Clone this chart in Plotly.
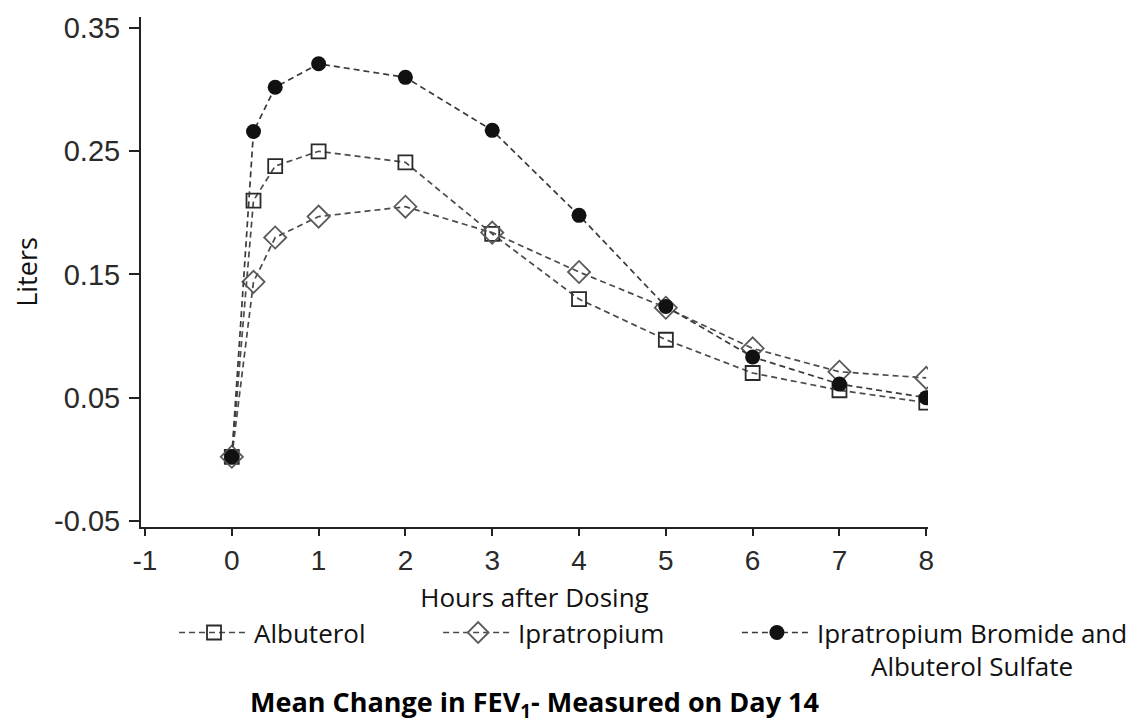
import plotly.graph_objects as go

hours = [0, 0.25, 0.5, 1, 2, 3, 4, 5, 6, 7, 8]
albuterol = [0.002, 0.210, 0.238, 0.250, 0.241, 0.183, 0.130, 0.097, 0.070, 0.056, 0.046]
ipratropium = [0.002, 0.144, 0.180, 0.197, 0.205, 0.184, 0.152, 0.123, 0.090, 0.071, 0.066]
combination = [0.002, 0.266, 0.302, 0.321, 0.310, 0.267, 0.198, 0.124, 0.083, 0.061, 0.050]

names = ["Albuterol" + " " * 10, "Ipratropium" + " " * 10,
         "Ipratropium Bromide and<br>" + " " * 8 + "Albuterol Sulfate"]

x_ticks = [-1, 0, 1, 2, 3, 4, 5, 6, 7, 8]
y_ticks = [-0.05, 0.05, 0.15, 0.25, 0.35]
y_tick_labels = ["-0.05", "0.05", "0.15", "0.25", "0.35"]

DASH = "6px,4px"
fig = go.Figure()
fig.add_trace(go.Scatter(
    x=hours, y=albuterol, name=names[0], mode="lines+markers",
    line=dict(color="#4a4a4a", width=1.7, dash=DASH),
    marker=dict(symbol="square-open", size=14, color="#2a2a2a", line=dict(width=1.8)),
))
fig.add_trace(go.Scatter(
    x=hours, y=ipratropium, name=names[1], mode="lines+markers",
    line=dict(color="#4a4a4a", width=1.7, dash=DASH),
    marker=dict(symbol="diamond-open", size=17, color="#5a5a5a", line=dict(width=1.8)),
))
fig.add_trace(go.Scatter(
    x=hours, y=combination, name=names[2], mode="lines+markers",
    line=dict(color="#3a3a3a", width=1.7, dash=DASH),
    marker=dict(symbol="circle", size=15, color="#111111"),
))

fig.update_layout(
    width=1147, height=719,
    margin=dict(l=133, r=227, t=9, b=200, autoexpand=False),
    plot_bgcolor="white", paper_bgcolor="white",
    showlegend=True,
    legend=dict(
        orientation="h", traceorder="normal", valign="top",
        xref="paper", yref="paper",
        x=1.2605, y=-0.161, xanchor="right", yanchor="top",
        font=dict(family="Open Sans", size=26, color="#111111"),
        itemwidth=70, bgcolor="rgba(0,0,0,0)",
    ),
    font=dict(family="Liberation Sans", color="#222222"),
)

fig.update_xaxes(
    range=[-1.046, 8.02], tickvals=x_ticks, ticktext=[str(t) for t in x_ticks],
    showline=True, linecolor="#222222", linewidth=2, automargin=False,
    ticks="outside", ticklen=7, tickwidth=2, tickcolor="#222222",
    showgrid=False, zeroline=False,
    tickfont=dict(family="Liberation Sans", size=28, color="#2a2a2a"),
    title=dict(text="Hours after Dosing", font=dict(family="Open Sans", size=26, color="#111111"), standoff=14),
)
fig.update_yaxes(
    range=[-0.055, 0.359], tickvals=y_ticks, ticktext=y_tick_labels,
    showline=True, linecolor="#222222", linewidth=2, automargin=False,
    ticks="outside", ticklen=10, tickwidth=2, tickcolor="#222222", ticklabelstandoff=3,
    showgrid=False, zeroline=False,
    tickfont=dict(family="Liberation Sans", size=29, color="#2a2a2a"),
    title=dict(text="Liters", font=dict(family="Open Sans", size=27, color="#111111"), standoff=18),
)

fig.add_annotation(
    text="<b>Mean Change in FEV<sub>1</sub>- Measured on Day 14</b>",
    xref="paper", yref="paper", x=0.5, y=-0.347, xanchor="center", yanchor="middle",
    showarrow=False, font=dict(family="Open Sans", size=27, color="#000000"),
)

fig.write_html("out.html")
